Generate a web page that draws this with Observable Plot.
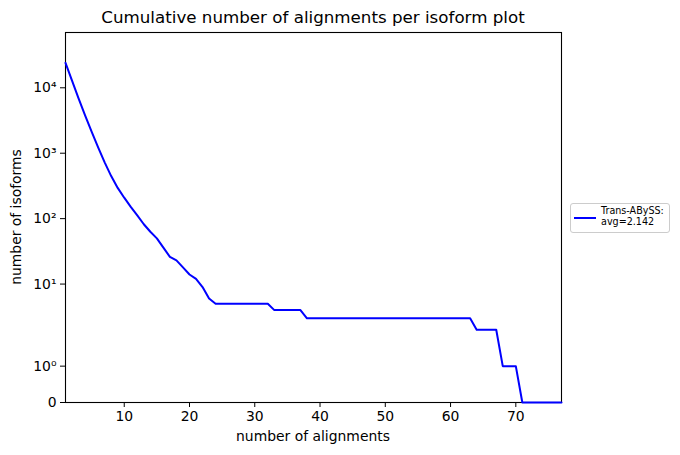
<!DOCTYPE html>
<html>
<head>
<meta charset="utf-8">
<script src="https://cdn.jsdelivr.net/npm/d3@7"></script>
<script src="https://cdn.jsdelivr.net/npm/@observablehq/plot@0.6"></script>
<style>
  body { margin: 0; background: #fff; font-family: "DejaVu Sans", sans-serif; }
  #wrap { position: relative; width: 680px; height: 455px; overflow: hidden; }
  #chart { position: absolute; left: 0; top: 0; }
  #title { position: absolute; left: 65px; width: 496px; top: 7px; text-align: center; font-size: 16.7px; line-height: 20px; color: #000; white-space: nowrap; }
  #xlabel { position: absolute; left: 65px; width: 496px; top: 428px; text-align: center; font-size: 13.9px; line-height: 16px; color: #000; white-space: nowrap; }
  #ylabel { position: absolute; left: 16px; top: 217px; font-size: 13.9px; line-height: 16px; color: #000; white-space: nowrap; transform: translate(-50%, -50%) rotate(-90deg); }
  #legend { position: absolute; left: 570px; top: 203px; width: 98px; height: 28px; border: 1px solid #cccccc; border-radius: 3px; background: rgba(255,255,255,0.8); }
  #legend svg { position: absolute; left: 2px; top: 0; }
  #legtext { position: absolute; left: 30px; top: 1px; font-size: 9.6px; line-height: 11px; color: #000; white-space: nowrap; }
</style>
</head>
<body>
<div id="wrap">
  <div id="chart"></div>
  <div id="title"></div>
  <div id="xlabel"></div>
  <div id="ylabel"></div>
  <div id="legend"></div>
</div>
<script>
// ---- data ----
const alignments = Array.from({length: 77}, (_, i) => i + 1);
const isoforms = [
  24000, 12900, 6900, 3800, 2140, 1230, 725, 447, 295, 209,
  151, 112, 82, 63, 50, 36, 26, 23, 18, 14,
  12, 9, 6, 5, 5, 5, 5, 5, 5, 5,
  5, 5, 4, 4, 4, 4, 4, 3, 3, 3,
  3, 3, 3, 3, 3, 3, 3, 3, 3, 3,
  3, 3, 3, 3, 3, 3, 3, 3, 3, 3,
  3, 3, 3, 2, 2, 2, 2, 1, 1, 1,
  0, 0, 0, 0, 0, 0, 0
];
const xTicks = [10, 20, 30, 40, 50, 60, 70];
const yTickValues = [0, 1, 10, 100, 1000, 10000];
const yTickLabels = ["0", "10\u2070", "10\u00B9", "10\u00B2", "10\u00B3", "10\u2074"];
const titleText = "Cumulative number of alignments per isoform plot";
const xLabelText = "number of alignments";
const yLabelText = "number of isoforms";
const seriesName = "Trans-ABySS:";
const seriesAvg = "avg=2.142";
const seriesColor = "#0000ff";

// ---- symlog transform (matplotlib style, linthresh = 2, base 10) ----
const LINTHRESH = 2;
const LINSCALE_ADJ = 1 / (1 - 1 / 10);
const g = v => v <= LINTHRESH ? (v / LINTHRESH) * LINSCALE_ADJ : LINSCALE_ADJ + Math.log10(v / LINTHRESH);

const rows = alignments.map((a, i) => ({a, n: isoforms[i]}));
const labelMap = new Map(yTickValues.map((v, i) => [g(v), yTickLabels[i]]));

const chart = Plot.plot({
  width: 680,
  height: 455,
  marginLeft: 65,
  marginRight: 119,
  marginTop: 32,
  marginBottom: 53,
  style: {fontFamily: "DejaVu Sans", fontSize: "13.9px", color: "black", background: "transparent", overflow: "visible"},
  x: {domain: [1, 77]},
  y: {domain: [0, 5.655]},
  marks: [
    Plot.frame({stroke: "black", strokeWidth: 1.1}),
    Plot.lineY(rows, {x: "a", y: d => g(d.n), stroke: seriesColor, strokeWidth: 2}),
    Plot.axisX({ticks: xTicks, tickSize: 5, tickPadding: 4, label: null, fontSize: 13.9}),
    Plot.axisY({ticks: yTickValues.map(g), tickFormat: d => labelMap.get(d), tickSize: 5, tickPadding: 4, label: null, fontSize: 13.9})
  ]
});
document.getElementById("chart").appendChild(chart);
document.getElementById("title").textContent = titleText;
document.getElementById("xlabel").textContent = xLabelText;
document.getElementById("ylabel").textContent = yLabelText;

const leg = document.getElementById("legend");
leg.innerHTML = `<svg width="26" height="28"><line x1="1" x2="23" y1="14" y2="14" stroke="${seriesColor}" stroke-width="2"/></svg><div id="legtext"></div>`;
document.getElementById("legtext").innerHTML = seriesName + "<br>" + seriesAvg;
</script>
</body>
</html>
